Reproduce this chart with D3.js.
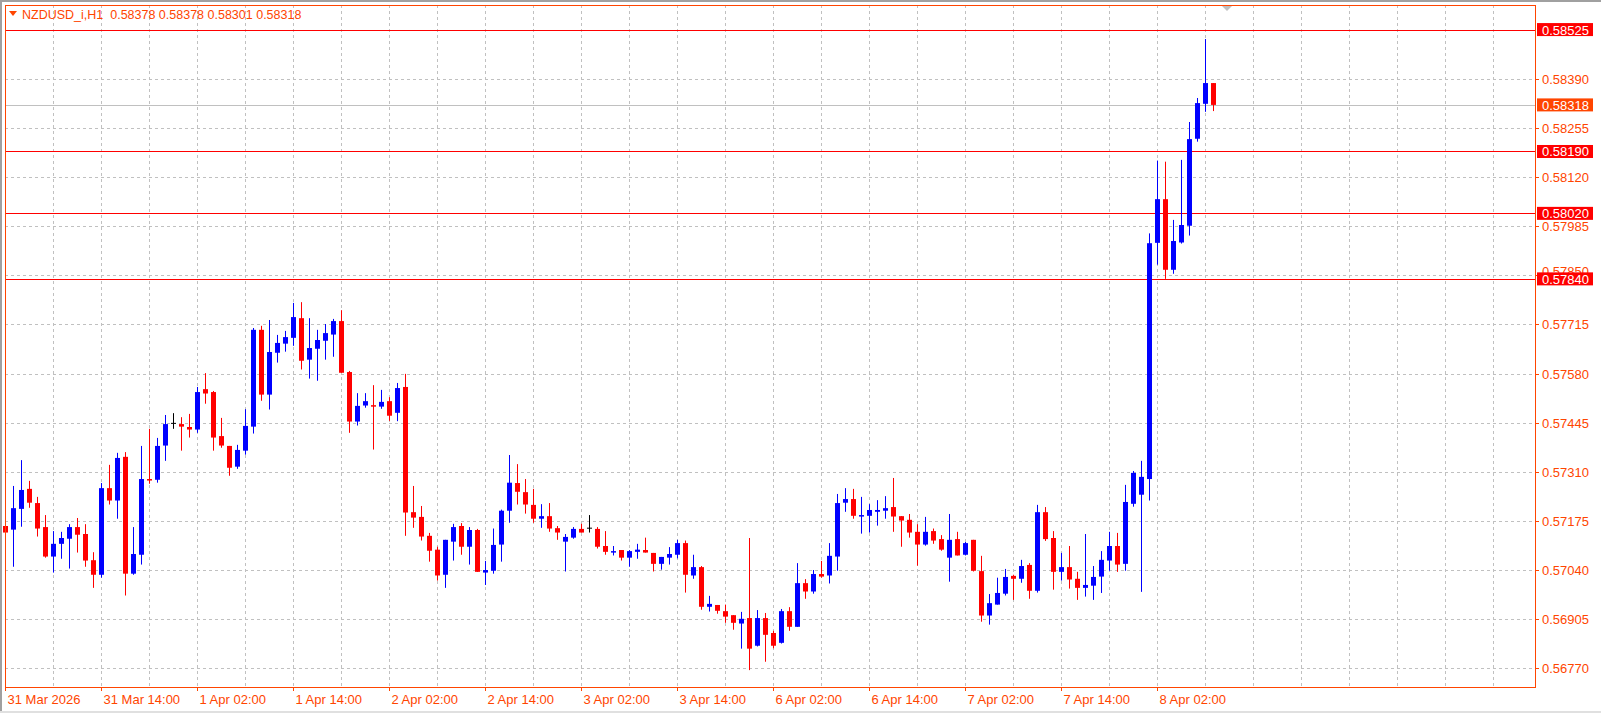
<!DOCTYPE html>
<html><head><meta charset="utf-8">
<script src="https://cdn.jsdelivr.net/npm/d3@7"></script>
<style>body{margin:0;background:#fff;overflow:hidden}svg{display:block}</style>
</head><body><svg id="c" width="1601" height="713"></svg>
<script>
// OHLC in 1e-5 units (NZDUSD H1)
const opens=[57161,57151,57208,57263,57224,57158,57077,57112,57126,57158,57139,57067,57027,57265,57231,57351,57030,57082,57290,57288,57382,57443,57441,57433,57426,57537,57529,57408,57381,57324,57368,57434,57700,57522,57637,57662,57678,57732,57618,57648,57670,57687,57724,57584,57448,57492,57493,57489,57504,57472,57543,57199,57186,57134,57096,57027,57118,57161,57104,57150,57033,57038,57110,57203,57279,57254,57219,57181,57188,57155,57118,57129,57153,57155,57153,57106,57088,57095,57074,57090,57095,57087,57057,57074,57082,57114,57025,57048,56939,56944,56927,56916,56893,56908,56832,56908,56867,56840,56927,56884,57004,56981,57029,57025,57077,57225,57235,57188,57189,57200,57203,57213,57188,57178,57145,57110,57147,57125,57074,57125,57082,57123,57037,56915,56945,56975,57024,57016,57054,56983,57199,57128,57035,57048,57016,56991,56997,57022,57066,57106,57057,57222,57247,57290,57939,58059,57865,57940,57986,58225,58321,58378];
const highs=[57161,57271,57342,57285,57241,57191,57147,57145,57166,57183,57166,57089,57279,57329,57362,57364,57158,57381,57428,57403,57466,57471,57460,57469,57543,57581,57532,57458,57381,57384,57482,57705,57711,57727,57686,57697,57774,57776,57732,57700,57716,57730,57754,57587,57526,57526,57548,57535,57515,57554,57579,57271,57216,57142,57104,57123,57167,57169,57158,57153,57065,57154,57206,57356,57331,57290,57263,57221,57224,57161,57139,57158,57167,57191,57158,57147,57106,57095,57095,57112,57129,57087,57076,57103,57123,57121,57082,57051,56969,56944,56945,56916,56925,57128,56930,56922,56873,56933,56938,57059,57015,57040,57065,57114,57249,57265,57263,57241,57221,57232,57243,57293,57188,57194,57166,57186,57154,57136,57194,57145,57117,57123,57079,56974,57019,57043,57027,57068,57059,57219,57213,57147,57087,57106,57035,57139,57051,57092,57145,57142,57274,57312,57340,57965,58165,58162,58002,58167,58271,58337,58499,58378];
const lows=[57109,57049,57159,57211,57132,57074,57033,57071,57044,57088,57049,56991,57019,57220,57181,56970,57027,57055,57277,57280,57340,57428,57368,57404,57417,57497,57368,57376,57299,57318,57357,57415,57505,57481,57610,57640,57656,57591,57566,57560,57618,57626,57582,57417,57437,57486,57371,57483,57450,57449,57134,57156,57121,57063,57011,56991,57066,57082,57055,57035,56999,57030,57063,57170,57220,57195,57170,57156,57145,57123,57036,57126,57143,57143,57099,57082,57080,57066,57049,57071,57088,57036,57041,57055,57072,56978,57016,56931,56926,56920,56895,56876,56824,56765,56830,56788,56825,56838,56873,56884,56961,56975,57019,57003,57038,57200,57181,57140,57143,57162,57181,57145,57104,57129,57052,57107,57112,57093,57008,57080,57080,57036,56898,56890,56945,56970,56958,57005,56961,56978,57120,56986,57011,56989,56958,56967,56958,56977,57038,57035,57038,57214,56980,57231,57879,57840,57854,57937,57959,58217,58299,58301];
const closes=[57143,57210,57260,57225,57154,57077,57112,57128,57158,57137,57066,57027,57265,57231,57348,57030,57084,57290,57286,57381,57441,57443,57434,57426,57529,57525,57404,57382,57321,57370,57436,57700,57522,57639,57664,57680,57735,57615,57650,57672,57691,57724,57582,57448,57491,57504,57489,57502,57464,57540,57198,57184,57132,57093,57025,57123,57158,57104,57150,57035,57040,57109,57203,57280,57255,57220,57181,57188,57154,57143,57131,57153,57143,57155,57104,57090,57092,57074,57092,57096,57088,57057,57076,57084,57114,57027,57048,56939,56947,56928,56912,56895,56906,56824,56908,56862,56832,56927,56884,57004,56981,57029,57022,57079,57224,57235,57189,57191,57205,57205,57210,57187,57176,57143,57110,57145,57121,57096,57123,57080,57114,57038,56915,56949,56977,57021,57016,57051,56983,57199,57125,57035,57048,57014,56991,56999,57021,57068,57106,57055,57227,57307,57296,57938,58059,57865,57944,57988,58224,58323,58378,58318];
const priceTicks=["0.58390","0.58255","0.58120","0.57985","0.57850","0.57715","0.57580","0.57445","0.57310","0.57175","0.57040","0.56905","0.56770"];
const levelLines=[0.58525,0.58190,0.58020,0.57840];
const bidPrice=0.58318;
const timeLabels=["31 Mar 2026","31 Mar 14:00","1 Apr 02:00","1 Apr 14:00","2 Apr 02:00","2 Apr 14:00","3 Apr 02:00","3 Apr 14:00","6 Apr 02:00","6 Apr 14:00","7 Apr 02:00","7 Apr 14:00","8 Apr 02:00"];
const header="NZDUSD_i,H1  0.58378 0.58378 0.58301 0.58318";

const svg=d3.select("#c");
const OR="#ff4500";
const L=5,R=1535,T=5,B=687;
const y=d3.scaleLinear().domain([0.5677,0.5839]).range([668.3,78.7]);
const x=d3.scaleLinear().domain([0,151]).range([5.3,1213.3]);
const P=v=>v/1e5;
const font="Liberation Sans, Arial, sans-serif";

svg.append("rect").attr("x",0).attr("y",0).attr("width",1601).attr("height",2).attr("fill","#a0a0a0");
svg.append("rect").attr("x",0).attr("y",0).attr("width",2).attr("height",713).attr("fill","#a0a0a0");
svg.append("rect").attr("x",0).attr("y",711).attr("width",1601).attr("height",2).attr("fill","#e0e0e0");

const g=svg.append("g");
priceTicks.forEach(t=>{const yy=Math.round(y(+t))+0.5;
  g.append("line").attr("x1",L).attr("x2",R).attr("y1",yy).attr("y2",yy).attr("stroke","#c0c0c0").attr("stroke-dasharray","3,3");
  g.append("line").attr("x1",R).attr("x2",R+4).attr("y1",yy).attr("y2",yy).attr("stroke",OR);
});
d3.range(0,200,6).forEach(i=>{const xx=Math.round(x(i))+0.5; if(xx>L+2&&xx<R-5)
  g.append("line").attr("x1",xx).attr("x2",xx).attr("y1",T).attr("y2",B).attr("stroke","#c0c0c0").attr("stroke-dasharray","3,3");});

levelLines.forEach(v=>{const yy=Math.round(y(v))+0.5;
  g.append("line").attr("x1",L).attr("x2",R).attr("y1",yy).attr("y2",yy).attr("stroke","#ff0000").attr("stroke-width",1.2);});
const by=Math.round(y(bidPrice))+0.5;
g.append("line").attr("x1",L).attr("x2",R).attr("y1",by).attr("y2",by).attr("stroke","#c0c0c0");

const cg=g.append("g");
opens.forEach((o,i)=>{
  const c=closes[i],col=c>o?"#0000ff":(c<o?"#ff0000":"#000000");
  const cx=Math.round(x(i))+0.5;
  cg.append("line").attr("x1",cx).attr("x2",cx).attr("y1",y(P(highs[i]))).attr("y2",y(P(lows[i]))).attr("stroke",col).attr("stroke-width",1);
  const t=y(P(Math.max(o,c))),b=y(P(Math.min(o,c)));
  if(col==="#000000") cg.append("line").attr("x1",cx-2.5).attr("x2",cx+2.5).attr("y1",t).attr("y2",t).attr("stroke",col);
  else cg.append("rect").attr("x",cx-2.5).attr("y",t).attr("width",5).attr("height",Math.max(1.5,b-t)).attr("fill",col);
});

const pl=svg.append("g").attr("font-family",font).attr("font-size",13);
priceTicks.forEach(t=>{ if(Math.abs(y(+t)-y(0.5784))>8) pl.append("text").attr("x",1542).attr("y",y(+t)+5).attr("fill",OR).text(t);
  else pl.append("text").attr("x",1542).attr("y",y(+t)+1).attr("fill",OR).text(t);});
function box(v,fill){const yy=y(v);
  pl.append("rect").attr("x",1537).attr("y",yy-6.5).attr("width",56).attr("height",13).attr("fill",fill);
  pl.append("text").attr("x",1542).attr("y",yy+5).attr("fill","#fff").text(v.toFixed(5));}
levelLines.forEach(v=>box(v,"#ff0000"));
box(bidPrice,OR);

svg.append("rect").attr("x",L+0.5).attr("y",T+0.5).attr("width",R-L).attr("height",B-T).attr("fill","none").attr("stroke",OR);

const tl=svg.append("g").attr("font-family",font).attr("font-size",13).attr("fill",OR);
timeLabels.forEach((s,k)=>{const xx=Math.round(x(k*12))+0.5;
  tl.append("line").attr("x1",xx).attr("x2",xx).attr("y1",B).attr("y2",B+4).attr("stroke",OR);
  tl.append("text").attr("x",xx+2).attr("y",704).text(s);});

svg.append("path").attr("d","M9,11 L17,11 L13,16 Z").attr("fill",OR);
svg.append("text").attr("x",22).attr("y",19).attr("font-family",font).attr("font-size",12.5).attr("fill",OR).attr("xml:space","preserve").text(header);
svg.append("path").attr("d","M1222,6 L1232,6 L1227,11 Z").attr("fill","#c0c0c0");
</script></body></html>
